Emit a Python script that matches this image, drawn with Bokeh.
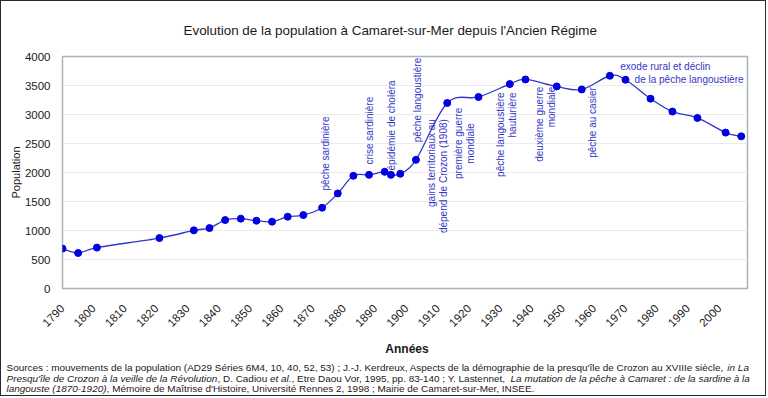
import numpy as np
from math import pi
from bokeh.plotting import figure
from bokeh.layouts import column
from bokeh.models import Label, FixedTicker, Range1d, ColumnDataSource
from bokeh.core.properties import value
from bokeh.embed import file_html
from bokeh.resources import INLINE

# ---------------- data ----------------
years = [1790, 1795, 1801, 1821, 1832, 1837, 1842, 1847, 1852, 1857, 1862, 1867,
         1873, 1878, 1883, 1888, 1893, 1895, 1898, 1903, 1913, 1923, 1933, 1938,
         1948, 1956, 1965, 1970, 1978, 1985, 1993, 2002, 2007]
population = [688, 612, 705, 870, 1003, 1042, 1180, 1204, 1169, 1152, 1238, 1266,
              1393, 1639, 1943, 1960, 2012, 1960, 1978, 2218, 3199, 3302, 3525, 3604,
              3484, 3432, 3668, 3599, 3273, 3050, 2941, 2688, 2624]
x_ticks = list(range(1790, 2001, 10))
y_ticks = list(range(0, 4001, 500))

title_text = "Evolution de la population à Camaret-sur-Mer depuis l'Ancien Régime"
x_label = "Années"
y_label = "Population"

event_texts = ["pêche sardinière", "crise sardinière", "épidémie de choléra",
               "pêche langoustière", "gains territoriaux au\ndépend de Crozon (1908)",
               "première guerre\nmondiale", "pêche langoustière\nhauturière",
               "deuxième guerre\nmondiale", "pêche au casier"]
event_years = [1874, 1888.3, 1895.3, 1903.4, 1910.0, 1918.6, 1931.9, 1944.3, 1959.6]
event_values = [1690, 2137, 2035, 2521, 2920, 2502, 3381, 3479, 2253]
event_align = ["left", "left", "left", "left", "right", "center", "right", "right", "left"]

exode_texts = ["exode rural et déclin", "de la pêche langoustière"]
exode_years = [1968.3, 1972.9]
exode_values = [3823, 3611]

source_lines = [
    [("Sources : mouvements de la population (AD29 Séries 6M4, 10, 40, 52, 53) ; J.-J. Kerdreux, Aspects de la démographie de la presqu'île de Crozon au XVIIIe siècle, ", False),
     ("in La", True)],
    [("Presqu'île de Crozon à la veille de la Révolution", True), (", D. Cadiou ", False),
     ("et al.", True), (", Etre Daou Vor, 1995, pp. 83-140 ; Y. Lastennet, ", False),
     ("La mutation de la pêche à Camaret : de la sardine à la", True)],
    [("langouste (1870-1920)", True),
     (", Mémoire de Maîtrise d'Histoire, Université Rennes 2, 1998 ; Mairie de Camaret-sur-Mer, INSEE.", False)],
]

# ---------------- styles ----------------
FONT = "Liberation Sans"
BLUE_LINE = "#3535c8"
BLUE_MARK = "#0000e0"
BLUE_TEXT = "#3636c4"
TEXT = "#1a1a1a"
BORDER = "1px solid #2a2a2a"

# Arial / Liberation Sans advance widths (1/1000 em)
_W = {}
_W.update({c: w for c, w in zip("ABCDEFGHIJKLMNOPQRSTUVWXYZ",
          [667, 667, 722, 722, 667, 611, 778, 722, 278, 500, 667, 556, 833, 722, 778, 667,
           778, 722, 667, 611, 722, 667, 944, 667, 667, 611])})
_W.update({c: w for c, w in zip("abcdefghijklmnopqrstuvwxyz",
          [556, 556, 500, 556, 556, 278, 556, 556, 222, 222, 500, 222, 833, 556, 556, 556,
           556, 333, 500, 278, 556, 500, 722, 500, 500, 500])})
_W.update({c: 556 for c in "0123456789éèêëàâôûùÉ"})
_W.update({" ": 278, ":": 278, ";": 278, ",": 278, ".": 278, "-": 333, "(": 333, ")": 333,
           "'": 191, "î": 278, "ï": 278, "ç": 500})


def text_width(s, size):
    return sum(_W.get(c, 556) for c in s) * size / 1000.0


W = 766
H1, H2 = 333, 63
BL, BR, BT = 61, 20, 55
FH = 232
BB = H1 - BT - FH
X0, X1, Y0, Y1 = 1790, 2009, 0, 4000

p = figure(width=W, height=H1, output_backend="svg", toolbar_location=None,
           x_range=Range1d(X0, X1), y_range=Range1d(Y0, Y1),
           min_border_left=BL, min_border_right=BR, min_border_top=BT, min_border_bottom=BB,
           background_fill_color="white", border_fill_color="white")
p.frame_align = False
p.styles = {"border-top": BORDER, "border-left": BORDER, "border-right": BORDER}

# title
p.title.text = title_text
p.title.align = "left"
p.title.offset = 121
p.title.standoff = 37
p.title.text_font = FONT
p.title.text_font_size = "13.4px"
p.title.text_font_style = "normal"
p.title.text_color = TEXT

p.xaxis.ticker = FixedTicker(ticks=x_ticks)
p.yaxis.ticker = FixedTicker(ticks=y_ticks)
p.xaxis.major_label_orientation = pi / 4
for ax in (p.xaxis, p.yaxis):
    ax.axis_line_color = None
    ax.major_tick_line_color = None
    ax.minor_tick_line_color = None
    ax.major_label_text_font = FONT
    ax.major_label_text_font_size = "11.5px"
    ax.major_label_text_color = TEXT
    ax.axis_label_text_font = FONT
    ax.axis_label_text_color = TEXT
p.yaxis.major_label_standoff = 6
p.xaxis.major_label_standoff = 12
p.yaxis.axis_label = y_label
p.yaxis.axis_label_text_font_size = "11px"
p.yaxis.axis_label_text_font_style = "normal"
p.yaxis.axis_label_standoff = 0
p.xgrid.grid_line_color = None
p.ygrid.grid_line_color = "#ececec"
p.outline_line_color = "#a9b1b9"
p.outline_line_width = 1.5

# ---------------- smoothed line (Excel-style Bezier through points) ----------------
x = np.array(years, dtype=float)
y = np.array(population, dtype=float)
xp = np.concatenate([[x[0]], x, [x[-1]]])
yp = np.concatenate([[y[0]], y, [y[-1]]])
n = len(x)
seg = dict(x0=x[:-1], y0=y[:-1], x1=x[1:], y1=y[1:],
           cx0=x[:-1] + (xp[2:n + 1] - xp[0:n - 1]) / 6.0,
           cy0=y[:-1] + (yp[2:n + 1] - yp[0:n - 1]) / 6.0,
           cx1=x[1:] - (xp[3:n + 2] - xp[1:n]) / 6.0,
           cy1=y[1:] - (yp[3:n + 2] - yp[1:n]) / 6.0)
p.bezier(x0="x0", y0="y0", x1="x1", y1="y1", cx0="cx0", cy0="cy0", cx1="cx1", cy1="cy1",
         source=ColumnDataSource(seg), line_color=BLUE_LINE, line_width=1.3)
p.scatter(years, population, size=7, marker="circle", fill_color=BLUE_MARK,
          line_color=BLUE_MARK)

# ---------------- annotations ----------------
for t, xv, yv, al in zip(event_texts, event_years, event_values, event_align):
    p.add_layout(Label(x=xv, y=yv, text=t, angle=pi / 2, text_align=al,
                       text_baseline="middle", text_font=FONT, text_font_size="10px",
                       text_color=BLUE_TEXT, text_line_height=1.1))
for t, xv, yv in zip(exode_texts, exode_years, exode_values):
    p.add_layout(Label(x=xv, y=yv, text=t, text_align="left", text_baseline="middle",
                       text_font=FONT, text_font_size="10px", text_color=BLUE_TEXT))

# ---------------- axis title + sources strip (pixel layout coordinates) ----------------
s = figure(width=W, height=H2, output_backend="svg", toolbar_location=None,
           x_range=Range1d(0, W), y_range=Range1d(H2, 0),
           x_axis_type=None, y_axis_type=None,
           min_border_left=0, min_border_right=0, min_border_top=0, min_border_bottom=0,
           background_fill_color="white", border_fill_color="white")
s.frame_align = False
s.styles = {"border-left": BORDER, "border-right": BORDER, "border-bottom": BORDER}
s.outline_line_color = None
s.grid.visible = False

# "Années" centred under the plot frame
s.text(x=[BL + (W - BL - BR) / 2 + 2], y=[15.5], text=[x_label], text_align="center",
       text_baseline="middle", text_font=value(FONT), text_font_size=value("12px"),
       text_font_style="bold", text_color=TEXT)

first_line = "".join(t for t, _ in source_lines[0])
SRC_SIZE = min(9.95, 750.0 / (sum(_W.get(c, 556) for c in first_line) / 1000.0))
baselines = [33.6, 44.5, 55.1]
for parts, bl in zip(source_lines, baselines):
    cx = 5.0
    for txt, ital in parts:
        s.text(x=[cx], y=[bl], text=[txt], text_align="left", text_baseline="alphabetic",
               text_font=value(FONT), text_font_size=value(f"{SRC_SIZE:.2f}px"),
               text_font_style="italic" if ital else "normal", text_color=TEXT)
        cx += text_width(txt, SRC_SIZE)

layout = column(p, s, spacing=0)
open("out.html", "w").write(file_html(layout, INLINE))
